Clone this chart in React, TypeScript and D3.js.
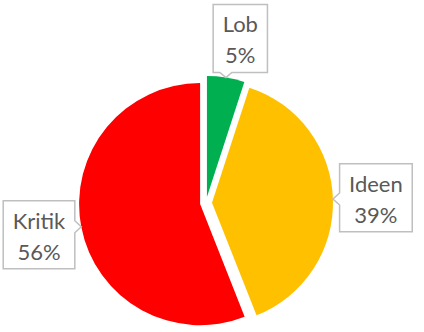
import React, { useMemo } from "react";
import * as d3 from "d3";

const categories = ["Lob", "Ideen", "Kritik"];
const values = [5, 39, 56];
const colors = ["#00B050", "#FFC000", "#FF0000"];

const W = 424;
const H = 332;
const CX = 206;
const CY = 203;
const R = 121;
const EXPLODE = 6;
const LABEL_R = 170;
const FONT = "Lato, 'Open Sans', sans-serif";
const FONT_SIZE = 22;
const labelNudge: Record<string, [number, number]> = { Lob: [7.7, 3.4], Ideen: [0, 0], Kritik: [0, 0] };

function measure(text: string): number {
  const c = document.createElement("canvas");
  const ctx = c.getContext("2d");
  if (!ctx) return text.length * FONT_SIZE * 0.5;
  ctx.font = `${FONT_SIZE}px Lato`;
  return ctx.measureText(text).width;
}

export default function App() {
  const total = d3.sum(values);
  const pie = d3.pie<number>().sort(null).value((d) => d);
  const arcs = pie(values);
  const arcGen = d3.arc<d3.PieArcDatum<number>>().innerRadius(0).outerRadius(R);

  const items = useMemo(
    () =>
      arcs.map((a, i) => {
        const mid = (a.startAngle + a.endAngle) / 2;
        const ux = Math.sin(mid);
        const uy = -Math.cos(mid);
        const ox = CX + EXPLODE * ux;
        const oy = CY + EXPLODE * uy;
        const tipX = ox + R * ux;
        const tipY = oy + R * uy;
        const nudge = labelNudge[categories[i]] || [0, 0];
        const bx = CX + LABEL_R * ux + nudge[0];
        const by = CY + LABEL_R * uy + nudge[1];
        const pct = `${Math.round((values[i] / total) * 100)}%`;
        const tw = Math.max(measure(categories[i]), measure(pct));
        const bw = tw + 19;
        const bh = 68;
        const l = bx - bw / 2;
        const r = bx + bw / 2;
        const t = by - bh / 2;
        const b = by + bh / 2;
        const half = 6;
        let path = "";
        if (tipY > b) {
          const px = Math.max(l + half + 2, Math.min(r - half - 2, tipX));
          path = `M${l},${t}H${r}V${b}H${px + half}L${tipX},${tipY}L${px - half},${b}H${l}Z`;
        } else if (tipX < l) {
          const py = Math.max(t + half + 2, Math.min(b - half - 2, tipY));
          path = `M${l},${t}H${r}V${b}H${l}V${py + half}L${tipX},${tipY}L${l},${py - half}Z`;
        } else if (tipX > r) {
          const py = Math.max(t + half + 2, Math.min(b - half - 2, tipY));
          path = `M${l},${t}H${r}V${py - half}L${tipX},${tipY}L${r},${py + half}V${b}H${l}Z`;
        } else {
          const px = Math.max(l + half + 2, Math.min(r - half - 2, tipX));
          path = `M${l},${t}H${px - half}L${tipX},${tipY}L${px + half},${t}H${r}V${b}H${l}Z`;
        }
        return { a, i, ox, oy, bx, t, path, pct };
      }),
    []
  );

  return (
    <svg
      width={W}
      height={H}
      viewBox={`0 0 ${W} ${H}`}
      style={{ position: "absolute", left: 0, top: 0, background: "#fff" }}
    >
      {items.map((it) => (
        <path
          key={`s${it.i}`}
          d={arcGen(it.a) || ""}
          transform={`translate(${it.ox},${it.oy})`}
          fill={colors[it.i]}
        />
      ))}
      {items.map((it) => (
        <g key={`l${it.i}`}>
          <path d={it.path} fill="#fff" stroke="#BFBFBF" strokeWidth={1.5} />
          <text
            x={it.bx}
            y={it.t + 28}
            textAnchor="middle"
            fontFamily={FONT}
            fontSize={FONT_SIZE}
            fill="#595959"
          >
            {categories[it.i]}
          </text>
          <text
            x={it.bx}
            y={it.t + 59}
            textAnchor="middle"
            fontFamily={FONT}
            fontSize={FONT_SIZE}
            fill="#595959"
          >
            {it.pct}
          </text>
        </g>
      ))}
    </svg>
  );
}
